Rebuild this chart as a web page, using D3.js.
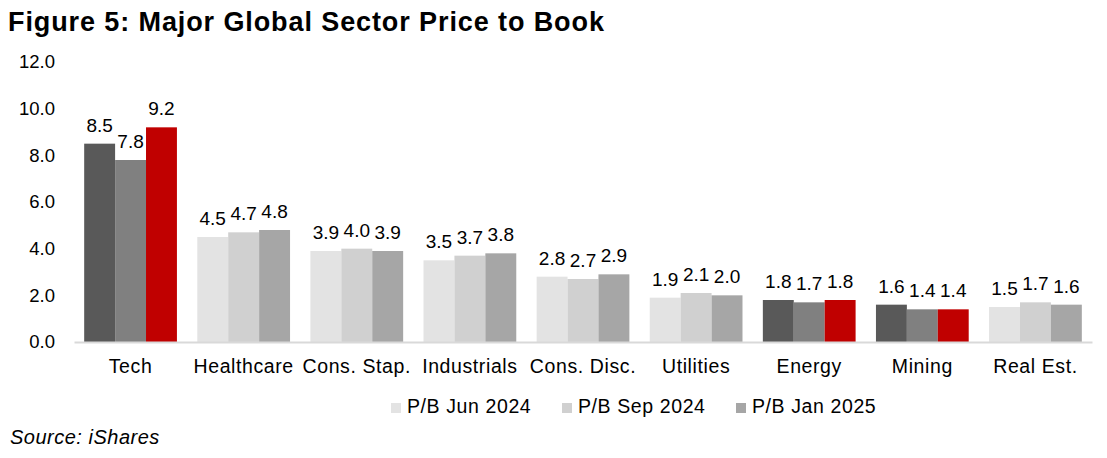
<!DOCTYPE html>
<html><head><meta charset="utf-8">
<script src="https://cdn.jsdelivr.net/npm/d3@7"></script>
<style>body{margin:0;background:#fff;} svg{display:block;font-family:"Liberation Sans",Arial,sans-serif;}</style>
</head><body><svg id="c" width="1107" height="458"></svg>
<script>
const categories = ["Tech","Healthcare","Cons. Stap.","Industrials","Cons. Disc.","Utilities","Energy","Mining","Real Est."];
const seriesNames = ["P/B Jun 2024","P/B Sep 2024","P/B Jan 2025"];
const jun2024 = [8.5,4.5,3.9,3.5,2.8,1.9,1.8,1.6,1.5];
const sep2024 = [7.8,4.7,4.0,3.7,2.7,2.1,1.7,1.4,1.7];
const jan2025 = [9.2,4.8,3.9,3.8,2.9,2.0,1.8,1.4,1.6];
const highlighted = ["Tech","Energy","Mining"];
const yTicks = [0,2,4,6,8,10,12];

const normalColors = ["#e3e3e3","#d0d0d0","#a6a6a6"];
const highlightColors = ["#595959","#808080","#c00000"];
const series = [jun2024, sep2024, jan2025];
const FONT = "Liberation Sans, Arial, sans-serif";

const svg = d3.select("#c");
const x0 = d3.scaleBand().domain(categories).range([74,1092]).paddingInner(0.18).paddingOuter(0.09);
const x1 = d3.scaleBand().domain([0,1,2]).range([0,x0.bandwidth()]);
const y = d3.scaleLinear().domain([0,12]).range([342,62]);

svg.append("text").attr("x",8).attr("y",31).attr("font-size",27).attr("font-weight","bold")
  .attr("letter-spacing",0.9).attr("fill","#000")
  .text("Figure 5: Major Global Sector Price to Book");

// y axis
const yAxis = d3.axisLeft(y).tickValues(yTicks).tickFormat(d3.format(".1f")).tickSize(0).tickPadding(0);
const yg = svg.append("g").attr("transform","translate(55,0)").call(yAxis);
yg.select(".domain").remove();
yg.selectAll("text").attr("font-size",18.5).attr("fill","#000").attr("font-family",FONT);

// bars
const groups = svg.append("g").selectAll("g").data(categories).join("g")
  .attr("transform",d=>`translate(${x0(d)},0)`);
groups.each(function(cat,ci){
  const g = d3.select(this);
  const cols = highlighted.includes(cat) ? highlightColors : normalColors;
  series.forEach((s,si)=>{
    g.append("rect").attr("x",x1(si)).attr("width",x1.bandwidth()).attr("y",y(s[ci])).attr("height",y(0)-y(s[ci]))
      .attr("fill",cols[si]);
    g.append("text").attr("x",x1(si)+x1.bandwidth()/2).attr("y",y(s[ci])-12).attr("text-anchor","middle")
      .attr("font-size",19).attr("fill","#000").text(s[ci].toFixed(1));
  });
});

// x axis
const xAxis = d3.axisBottom(x0).tickSize(0).tickPadding(17);
const xg = svg.append("g").attr("transform","translate(0,342)").call(xAxis);
xg.select(".domain").attr("stroke","#d9d9d9").attr("stroke-width",2);
xg.selectAll("text").attr("font-size",19.5).attr("letter-spacing",0.6).attr("fill","#000").attr("font-family",FONT);

// legend
const legX = [391,562,736];
seriesNames.forEach((n,i)=>{
  svg.append("rect").attr("x",legX[i]).attr("y",403).attr("width",10).attr("height",10).attr("fill",normalColors[i]);
  svg.append("text").attr("x",legX[i]+16).attr("y",413).attr("font-size",19.5).attr("letter-spacing",0.6)
    .attr("fill","#000").text(n);
});

svg.append("text").attr("x",10).attr("y",444).attr("font-size",20).attr("letter-spacing",0.5)
  .attr("font-style","italic").attr("fill","#000").text("Source: iShares");
</script></body></html>
